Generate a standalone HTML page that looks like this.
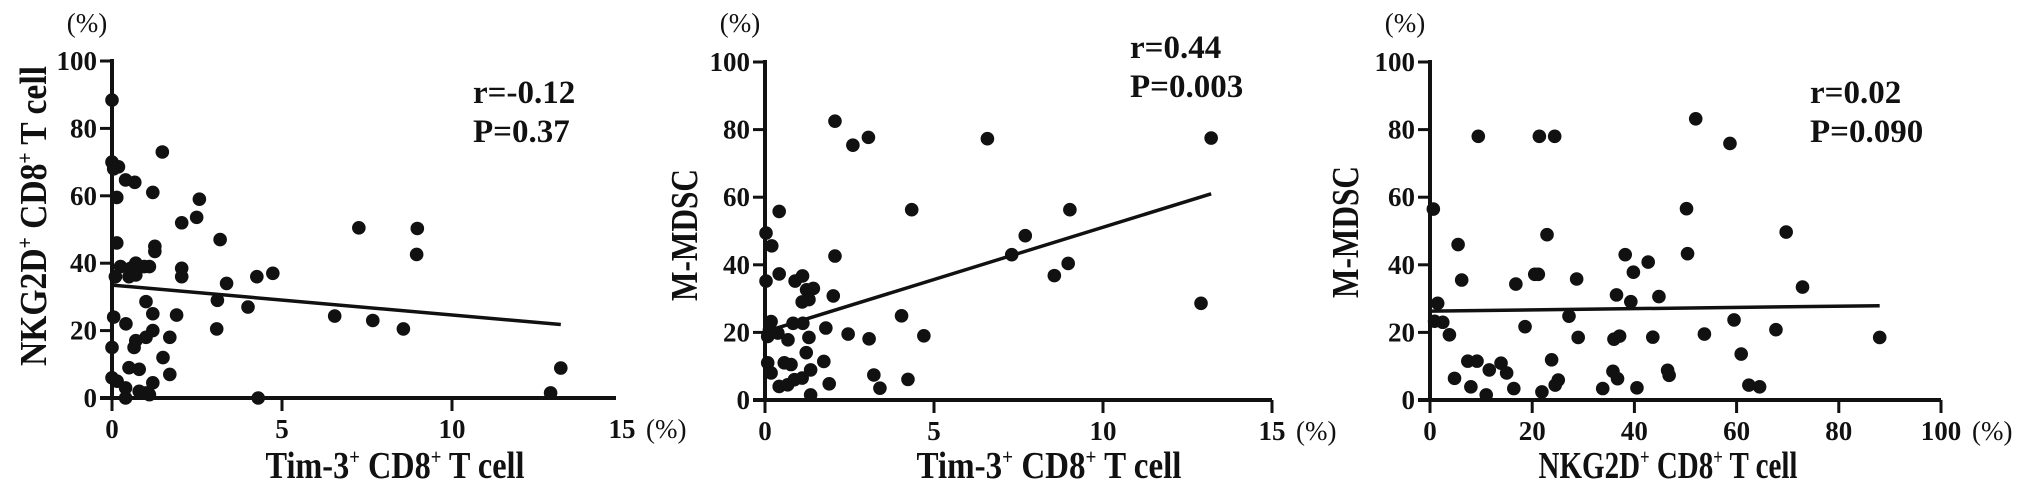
<!DOCTYPE html>
<html><head><meta charset="utf-8"><style>
html,body{margin:0;padding:0;background:#fff;}
svg{display:block;}
text{font-family:"Liberation Serif",serif;fill:#111;}
</style></head><body>
<svg id="chart" width="2031" height="497" viewBox="0 0 2031 497" xmlns="http://www.w3.org/2000/svg"></svg>
<script>
// Panel 1: Tim-3+ CD8+ (x) vs NKG2D+ CD8+ (y)
const p1X = [0,0,0.19,0.05,0.4,0.67,1.2,1.48,0.14,2.57,2.49,2.05,3.18,0.14,1.26,1.26,7.26,8.98,8.96,0.25,0.55,0.7,0.95,1.1,0.1,0.5,0.7,2.05,2.05,3.37,4.26,4.73,1.0,1.2,3.1,4.0,6.55,7.67,8.57,3.08,1.9,0.05,0.41,1.2,1.0,0.7,0.65,1.7,0,1.5,0.5,0.8,1.7,0,0.15,0.4,0.8,1.2,1.0,0.4,1.1,4.3,12.9,13.2];
const p1Y = [88.4,70,68.6,68,64.7,64,61,73,59.5,59,53.6,52,47,46,45,43.5,50.5,50.3,42.6,39,38.5,40,39,39,36,36,36.5,38.5,36,34,36,37,28.6,25,29,27,24.3,23,20.5,20.5,24.6,24,22,20,18,17,15,18,15,12,9,8.5,7,6,5,3,2,4.5,1.5,0,1,0,1.5,8.9];
const p1LineX = [0,13.2];
const p1LineY = [33.5,21.8];
// Panel 2: Tim-3+ CD8+ (x) vs M-MDSC (y)
const p2X = [2.07,2.6,3.06,6.58,0.42,4.34,0.03,0.2,2.07,0.03,0.42,0.89,1.11,1.23,1.43,1.1,1.3,2.02,4.04,4.7,2.46,3.08,1.8,1.3,0.18,0.13,0.08,0.38,0.68,0.83,1.12,1.22,1.74,1.35,3.22,4.23,3.4,1.9,0.08,0.18,0.57,0.77,0.42,0.67,0.87,1.1,1.35,13.2,12.9,9.02,8.97,8.56,7.7,7.3];
const p2Y = [82.5,75.4,77.7,77.3,55.8,56.3,49.4,45.6,42.6,35.2,37.3,35.2,36.7,32.6,33,29,29.7,30.8,24.9,19,19.5,18.1,21.3,18.5,23.2,20.7,18.8,19.8,17.8,22.7,22.7,14,11.4,8.9,7.4,6.1,3.5,4.8,11,8,11,10.5,4,4.5,6,6.5,1.5,77.5,28.6,56.3,40.4,36.8,48.6,43];
const p2LineX = [0.1,13.2];
const p2LineY = [20.5,61];
// Panel 3: NKG2D+ CD8+ (x) vs M-MDSC (y)
const p3X = [0.65,5.5,6.2,9.45,16.8,21.4,24.4,52,58.7,50.2,69.7,22.9,38.2,42.7,39.8,50.4,20.5,21.2,28.7,36.5,39.3,44.8,72.9,1.5,0.9,2.5,3.8,18.6,27.2,29.0,36.0,37.1,43.6,53.7,59.5,67.7,88,60.9,4.8,7.4,9.2,11.6,13.9,15.0,8.0,11.0,16.4,23.8,25.1,24.5,21.9,33.8,35.8,36.7,40.5,46.5,46.8,62.4,64.5];
const p3Y = [56.5,46,35.5,78,34.3,78,78,83.2,75.9,56.6,49.7,48.9,43,40.8,37.8,43.3,37.2,37.2,35.8,31.1,29.1,30.6,33.4,28.6,23.3,23,19.3,21.7,24.8,18.5,18,18.9,18.6,19.5,23.7,20.8,18.5,13.6,6.4,11.5,11.5,8.9,10.9,8,3.9,1.5,3.4,11.9,5.9,4.4,2.4,3.4,8.5,6.3,3.6,8.8,7.3,4.4,3.9];
const p3LineX = [0,88];
const p3LineY = [26.3,27.9];
const yTicks = [0,20,40,60,80,100];
const xTicksA = [0,5,10,15];
const xTicksB = [0,20,40,60,80,100];
const stats1 = ["r=-0.12","P=0.37"];
const stats2 = ["r=0.44","P=0.003"];
const stats3 = ["r=0.02","P=0.090"];

const NS = "http://www.w3.org/2000/svg";
const svg = document.getElementById('chart');
function mk(tag, attrs, parent){
  const e = document.createElementNS(NS, tag);
  for (const k in attrs) e.setAttribute(k, attrs[k]);
  (parent||svg).appendChild(e);
  return e;
}
function panel(cfg){
  const g = mk('g', {});
  
  
  const sx = v => cfg.x0 + (v - cfg.xmin) / (cfg.xmax - cfg.xmin) * (cfg.x1 - cfg.x0);
  const sy = v => cfg.y0 - v / 100 * (cfg.y0 - cfg.y1);
  const ya = mk('line', {x1:cfg.x0, y1:sy(0)+2, x2:cfg.x0, y2:sy(100)-2, stroke:'#111','stroke-width':4}, g);
  
  
  yTicks.forEach(t => {
    const tl = mk('line', {x1:cfg.x0-12, y1:sy(t), x2:cfg.x0, y2:sy(t), stroke:'#111','stroke-width':3}, g);
    
    
    const tx = mk('text', {x:cfg.x0-15, y:sy(t)+9, 'text-anchor':'end','font-size':27,'font-weight':'bold'}, g);
    tx.textContent = t;
    
    
  });
  const xa = mk('line', {x1:cfg.x0-12, y1:cfg.y0, x2:cfg.xAxisEnd, y2:cfg.y0, stroke:'#111','stroke-width':4}, g);
  
  
  cfg.xticks.forEach((t,i) => {
    if (sx(t) <= cfg.xAxisEnd + 1) {
      const tl = mk('line', {x1:sx(t), y1:cfg.y0, x2:sx(t), y2:cfg.y0+13, stroke:'#111','stroke-width':3}, g);
      
      
    }
    const tx = mk('text', {x:sx(t), y:cfg.y0+40, 'text-anchor':'middle','font-size':27,'font-weight':'bold'}, g);
    tx.textContent = t;
    
    
    if (i === cfg.xticks.length-1) {
      const u = mk('text', {x:sx(t)+(String(t).length*7)+10, y:cfg.y0+40, 'font-size':27}, g);
      u.textContent = '(%)';
      
      
    }
  });
  const yu = mk('text', {x:cfg.x0-25, y:32, 'text-anchor':'middle','font-size':27}, g);
  yu.textContent = '(%)';
  
  
  const yt = mk('text', {x:0, y:0, 'text-anchor':'middle','font-size':38,'font-weight':'bold', textLength:cfg.ytLen, lengthAdjust:'spacingAndGlyphs', transform:`translate(${cfg.ytX},${cfg.ytY}) rotate(-90)`}, g);
  yt.innerHTML = cfg.ytitle;
  
  
  const xt = mk('text', {x:cfg.xtX, y:478, 'text-anchor':'middle','font-size':38,'font-weight':'bold', textLength:cfg.xtLen, lengthAdjust:'spacingAndGlyphs'}, g);
  xt.innerHTML = cfg.xtitle;
  
  
  cfg.stats.forEach((s,i) => {
    const st = mk('text', {x:cfg.statX, y:cfg.statY + i*39, 'font-size':33,'font-weight':'bold'}, g);
    st.textContent = s;
    
    
  });
  const rl = mk('line', {x1:sx(cfg.lx[0]), y1:sy(cfg.ly[0]), x2:sx(cfg.lx[1]), y2:sy(cfg.ly[1]), stroke:'#111','stroke-width':3.5}, g);
  
  
  cfg.xs.forEach((v,i) => {
    const c = mk('circle', {cx:sx(v), cy:sy(cfg.ys[i]), r:6.8, fill:'#111'}, g);
    
    
  });
}
const sup = '<tspan font-size="22" dy="-14">+</tspan><tspan dy="14"> </tspan>';
panel({name:'panel-nkg2d-vs-tim3', x0:112, x1:622, xmin:0, xmax:15, y0:398, y1:61, xAxisEnd:616,
  xticks:xTicksA, xs:p1X, ys:p1Y, lx:p1LineX, ly:p1LineY, stats:stats1, statX:473, statY:103,
  ytitle:'NKG2D'+sup+'CD8'+sup+' T cell', ytX:46, ytY:216, ytLen:300, xtitle:'Tim-3'+sup+'CD8'+sup+' T cell', xtX:395, xtLen:259});
panel({name:'panel-mmdsc-vs-tim3', x0:765, x1:1272, xmin:0, xmax:15, y0:400, y1:62, xAxisEnd:1272,
  xticks:xTicksA, xs:p2X, ys:p2Y, lx:p2LineX, ly:p2LineY, stats:stats2, statX:1130, statY:58,
  ytitle:'M-MDSC', ytX:697, ytY:235, ytLen:132, xtitle:'Tim-3'+sup+'CD8'+sup+' T cell', xtX:1049, xtLen:265});
panel({name:'panel-mmdsc-vs-nkg2d', x0:1430, x1:1941, xmin:0, xmax:100, y0:400, y1:62, xAxisEnd:1941,
  xticks:xTicksB, xs:p3X, ys:p3Y, lx:p3LineX, ly:p3LineY, stats:stats3, statX:1810, statY:103,
  ytitle:'M-MDSC', ytX:1358, ytY:232, ytLen:132, xtitle:'NKG2D'+sup+'CD8'+sup+' T cell', xtX:1668, xtLen:259});
</script>
</body></html>
